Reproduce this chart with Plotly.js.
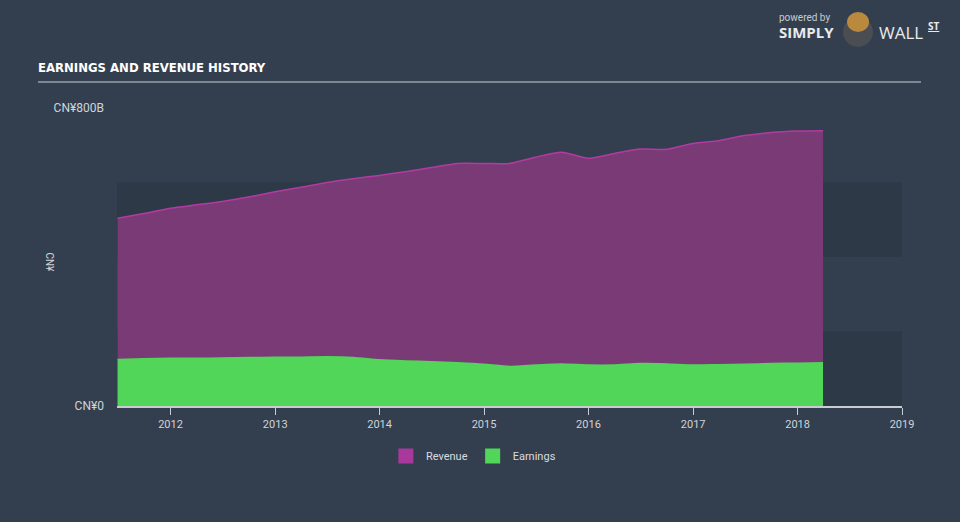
<!DOCTYPE html>
<html>
<head>
<meta charset="utf-8">
<script src="https://cdn.plot.ly/plotly-3.0.1.min.js"></script>
<style>
html,body{margin:0;padding:0;background:#333f4f;}
#chart{width:960px;height:522px;}
</style>
</head>
<body>
<div id="chart"></div>
<script>
const dates = ['2011-06-30','2011-09-30','2011-12-31','2012-03-31','2012-06-30','2012-09-30','2012-12-31',
  '2013-03-31','2013-06-30','2013-09-30','2013-12-31','2014-03-31','2014-06-30','2014-09-30','2014-12-31',
  '2015-03-31','2015-06-30','2015-09-30','2015-12-31','2016-03-31','2016-06-30','2016-09-30','2016-12-31',
  '2017-03-31','2017-06-30','2017-09-30','2017-12-31','2018-03-31'];
const revenue = [504,517,531,540,549,561,575,587,600,610,619,629,640,651,651,651,668,681,665,678,690,689,705,712,726,734,738,739];
const earnings = [125,127,128,128,129,130,131,131,132,130,124,121,119,116,112,106,110,113,110,110,114,113,110,111,112,114,115,116];
const yTickVals = [0, 800];
const yTickText = ['CN¥0', 'CN¥800B'];
const bands = [[0,200],[400,600]];
const seriesNames = ['Revenue', 'Earnings'];

const traces = [
  {x: dates, y: revenue, name: seriesNames[0], type: 'scatter', mode: 'lines', fill: 'tozeroy', showlegend: false,
   line: {color: '#b23ba3', width: 1.5, shape: 'spline', smoothing: 0.6}, fillcolor: '#7a3a76'},
  {x: dates, y: earnings, name: seriesNames[1], type: 'scatter', mode: 'lines', fill: 'tozeroy', showlegend: false,
   line: {color: '#52d65a', width: 1.5, shape: 'spline', smoothing: 0.6}, fillcolor: '#52d65a'},
  {x: [null], y: [null], name: seriesNames[0], type: 'bar', marker: {color: '#a8389b', line: {color: '#a8389b', width: 3}}},
  {x: [null], y: [null], name: seriesNames[1], type: 'bar', marker: {color: '#52d65a', line: {color: '#52d65a', width: 3}}}
];

const shapes = bands.map(b => ({type: 'rect', xref: 'paper', yref: 'y', x0: 0, x1: 1, y0: b[0], y1: b[1],
  fillcolor: '#2d3947', line: {width: 0}, layer: 'below'}));
shapes.push({type: 'line', xref: 'paper', yref: 'paper', x0: -0.1006, x1: 1.0242, y0: 1.087, y1: 1.087,
  line: {color: '#9aa1a9', width: 1.5}});
shapes.push({type: 'circle', xref: 'paper', yref: 'paper', x0: 0.9248, x1: 0.9631, y0: 1.2047, y1: 1.3054,
  fillcolor: '#4a4d52', line: {width: 0}});
shapes.push({type: 'circle', xref: 'paper', yref: 'paper', x0: 0.930, x1: 0.958, y0: 1.255, y1: 1.322,
  fillcolor: '#b98a3e', line: {width: 0}});

const layout = {
  width: 960, height: 522,
  paper_bgcolor: '#333f4f', plot_bgcolor: 'rgba(0,0,0,0)',
  margin: {l: 117, r: 58, t: 108, b: 116},
  showlegend: true,
  legend: {orientation: 'h', x: 0.454, xanchor: 'center', y: -0.168, yanchor: 'middle',
    font: {family: 'Roboto, sans-serif', size: 11, color: '#d8dce0'}, itemwidth: 30},
  xaxis: {type: 'date', range: ['2011-06-28', '2019-01-01'], dtick: 'M12', tick0: '2012-01-01', tickformat: '%Y',
    showgrid: false, zeroline: false, showline: true, linecolor: '#c8ccd2', linewidth: 1.5,
    ticks: 'outside', ticklen: 7, tickcolor: '#c8ccd2',
    tickfont: {family: 'Roboto, sans-serif', size: 11, color: '#d0d4d8'}},
  yaxis: {range: [0, 800], tickvals: yTickVals, ticktext: yTickText, showgrid: false, zeroline: false,
    showline: false, ticks: '', ticklabelstandoff: 12,
    tickfont: {family: 'Roboto, sans-serif', size: 12, color: '#d0d4d8'}},
  shapes: shapes,
  annotations: [
    {text: 'EARNINGS AND REVENUE HISTORY', xref: 'paper', yref: 'paper', x: -0.1032, y: 1.135, xanchor: 'left', yanchor: 'middle',
     showarrow: false, font: {family: '"DejaVu Sans Condensed", sans-serif', size: 13, color: '#ffffff', weight: 'bold'}},
    {text: 'CN¥', xref: 'paper', yref: 'paper', x: -0.086, y: 0.48, xanchor: 'center', yanchor: 'middle', textangle: 90,
     showarrow: false, font: {family: 'Roboto, sans-serif', size: 10, color: '#d0d4d8'}},
    {text: 'powered by', xref: 'paper', yref: 'paper', x: 0.8408, y: 1.305, xanchor: 'left', yanchor: 'middle',
     showarrow: false, font: {family: 'Roboto, sans-serif', size: 10, color: '#c8ccd0'}},
    {text: '<b>SIMPLY</b>', xref: 'paper', yref: 'paper', x: 0.8408, y: 1.255, xanchor: 'left', yanchor: 'middle',
     showarrow: false, font: {family: '"Open Sans", sans-serif', size: 15, color: '#e8eaec'}},
    {text: 'WALL', xref: 'paper', yref: 'paper', x: 0.9682, y: 1.255, xanchor: 'left', yanchor: 'middle',
     showarrow: false, font: {family: '"Open Sans", sans-serif', size: 17, color: '#e8eaec'}},
    {text: '<b><u>ST</u></b>', xref: 'paper', yref: 'paper', x: 1.0306, y: 1.275, xanchor: 'left', yanchor: 'middle',
     showarrow: false, font: {family: '"Open Sans", sans-serif', size: 10, color: '#e8eaec'}}
  ],
  hovermode: false
};

Plotly.newPlot('chart', traces, layout, {displayModeBar: false, staticPlot: true});
</script>
</body>
</html>
